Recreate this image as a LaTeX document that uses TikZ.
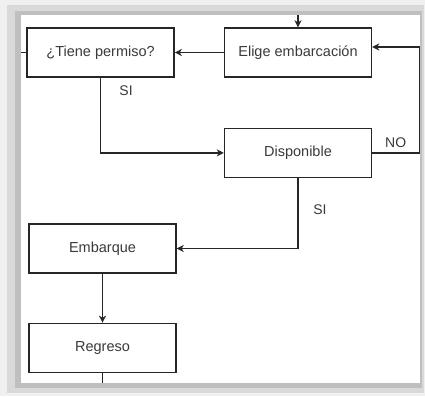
\documentclass[tikz,border=0pt]{standalone}
\usepackage{fontspec}
\setmainfont{Liberation Sans}
\usetikzlibrary{arrows.meta,positioning,calc}
\definecolor{FlujoLinea}{HTML}{262626}
\definecolor{FlujoTexto}{HTML}{3A3A3A}
\tikzset{
  paso/.style={draw=FlujoLinea,line width=1.4pt,fill=white,minimum width=147pt,minimum height=49pt,inner sep=0pt,text=FlujoTexto,font=\fontsize{14.5}{17}\selectfont},
  flecha/.style={draw=FlujoLinea,line width=1.4pt,-{Stealth[length=7pt,width=7pt,inset=2pt]}},
  linea/.style={draw=FlujoLinea,line width=1.4pt},
  etiqueta/.style={text=FlujoTexto,font=\fontsize{14}{17}\selectfont,inner sep=0pt}
}

\begin{document}
\begin{tikzpicture}[x=1pt,y=-1pt]
      % marco con sombra
      \fill[gray!12] (0,0) rectangle (425,396);
      \fill[gray!30] (7,5) rectangle (424,393);
      \fill[gray!50] (15,11) rectangle (422,388);
      \fill[white] (21,15) rectangle (420,383);
      \useasboundingbox (0,0) rectangle (425,396);

      \node[paso] (elige) at (298,52.5) {Elige embarcación};
      \node[paso,left=49pt of elige] (permiso) {¿Tiene permiso?};
      \node[paso,below=50pt of elige] (disp) {Disponible};
      \node[paso] (embarque) at (102.5,248.5) {Embarque};
      \node[paso,below=49pt of embarque] (regreso) {Regreso};

      \coordinate (entrada) at (298,15);
      \coordinate (izq) at (21,52.5);
      \coordinate (salida) at (102.5,383);

      \draw[flecha] (entrada) -- (elige.north);
      \draw[linea] (izq) -- (permiso.west);
      \draw[flecha] (elige) -- (permiso);
      \draw[flecha] (permiso.south) |- (disp.west);
      \node[etiqueta] at ($(permiso.south)+(25.5,13)$) {SI};
      \draw[flecha] (disp.east) -- node[etiqueta,above=5pt]{NO} ++(47,0) |- ([yshift=5.5pt]elige.east);
      \draw[flecha] (disp.south) |- (embarque.east);
      \node[etiqueta] at ($(disp.south)+(22,32)$) {SI};
      \draw[flecha] (embarque) -- (regreso);
      \draw[linea] (regreso.south) -- (salida);
    \end{tikzpicture}
\end{document}
